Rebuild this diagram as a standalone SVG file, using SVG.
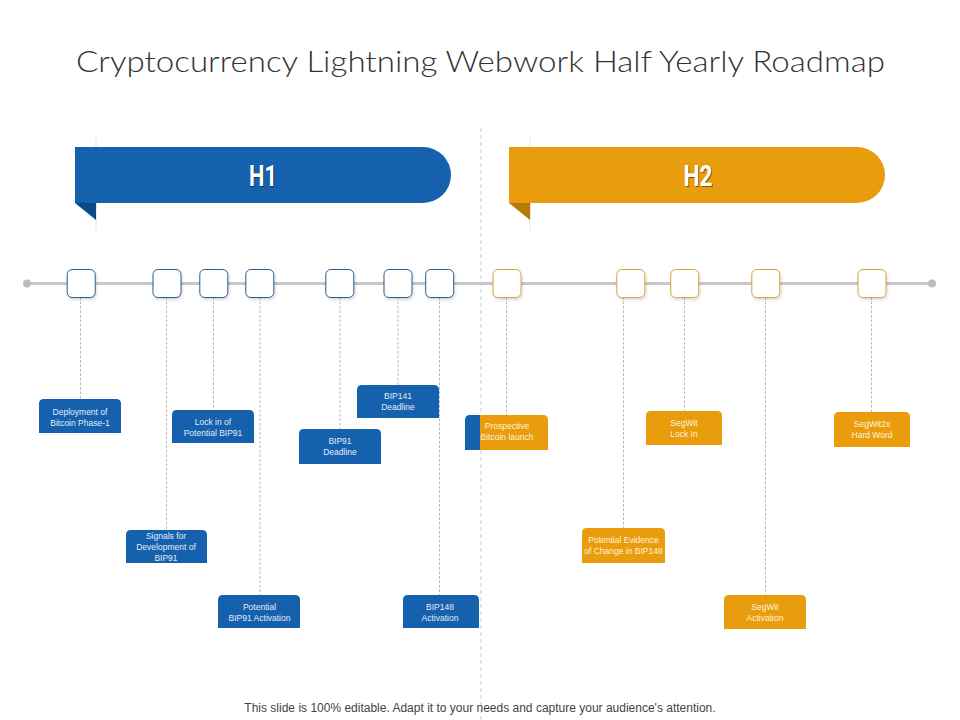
<svg xmlns="http://www.w3.org/2000/svg" width="960" height="720" viewBox="0 0 960 720">
<defs>
<style>
.title{font-family:Lato,"Liberation Sans",Arial,sans-serif;font-weight:300;font-size:30px;fill:#333333;}
.hd{font-family:Roboto,"Liberation Sans",sans-serif;font-weight:bold;font-size:29px;fill:#ffffff;text-anchor:middle;}
.hds{font-family:Roboto,"Liberation Sans",sans-serif;font-weight:bold;font-size:29px;fill:#000000;opacity:0.45;text-anchor:middle;}
.lb{font-family:"Liberation Sans",Arial,sans-serif;font-size:8.5px;text-anchor:middle;}
.lbb{fill:#e3ebf7;}
.lbo{fill:#fff4de;}
.blue{fill:#1561ad;}
.orange{fill:#e99c0c;}
.sqb{fill:#ffffff;stroke:#2a5a8e;stroke-width:1;}
.sqo{fill:#ffffff;stroke:#d6a43a;stroke-width:1;}
.con{stroke:#b5b5b5;stroke-width:1;stroke-dasharray:2.5,2;fill:none;}
.foot{font-family:"Liberation Sans",Arial,sans-serif;font-size:12px;fill:#444444;text-anchor:middle;}
</style>
<linearGradient id="sh" x1="0" y1="0" x2="0" y2="1">
<stop offset="0" stop-color="#cfcfcf" stop-opacity="0"/>
<stop offset="0.5" stop-color="#c8c8c8" stop-opacity="0.9"/>
<stop offset="1" stop-color="#cfcfcf" stop-opacity="0"/>
</linearGradient>
<filter id="ds" x="-30%" y="-30%" width="160%" height="170%">
<feDropShadow dx="1" dy="2" stdDeviation="1.5" flood-color="#000000" flood-opacity="0.15"/>
</filter>
</defs>
<rect width="960" height="720" fill="#ffffff"/>
<text class="title" x="76" y="71.5" textLength="809" lengthAdjust="spacingAndGlyphs">Cryptocurrency Lightning Webwork Half Yearly Roadmap</text>

<line x1="481" y1="128" x2="481" y2="720" stroke="#cccccc" stroke-width="1" stroke-dasharray="4,3"/>

<g id="banner-h1">
<rect x="95" y="128" width="2" height="112" fill="url(#sh)"/>
<path class="blue" d="M75,147 H423 A28,28 0 0 1 423,203 H75 Z"/>
<path d="M75,203 H96 V220 Z" fill="#0d4888"/>
<text class="hds" x="264" y="186.5" textLength="28" lengthAdjust="spacingAndGlyphs">H1</text>
<text class="hd" x="263" y="185.5" textLength="28" lengthAdjust="spacingAndGlyphs">H1</text>
</g>
<g id="banner-h2">
<rect x="529" y="128" width="2" height="112" fill="url(#sh)"/>
<path class="orange" d="M509,147 H857 A28,28 0 0 1 857,203 H509 Z"/>
<path d="M509,203 H530 V220 Z" fill="#b67a08"/>
<text class="hds" x="699" y="186.5" textLength="29" lengthAdjust="spacingAndGlyphs">H2</text>
<text class="hd" x="698" y="185.5" textLength="29" lengthAdjust="spacingAndGlyphs">H2</text>
</g>

<g id="timeline">
<line x1="27" y1="283.5" x2="932" y2="283.5" stroke="#c8c8c8" stroke-width="3"/>
<circle cx="27" cy="283.5" r="4" fill="#bdbdbd"/>
<circle cx="932" cy="283.5" r="4" fill="#bdbdbd"/>
</g>

<g id="connectors">
<line class="con" x1="80.5" y1="297" x2="80.5" y2="399"/>
<line class="con" x1="166.5" y1="297" x2="166.5" y2="530"/>
<line class="con" x1="213.5" y1="297" x2="213.5" y2="410"/>
<line class="con" x1="260" y1="297" x2="260" y2="595"/>
<line class="con" x1="340" y1="297" x2="340" y2="429"/>
<line class="con" x1="398" y1="297" x2="398" y2="385"/>
<line class="con" x1="439.5" y1="297" x2="439.5" y2="595"/>
<line class="con" x1="506.5" y1="297" x2="506.5" y2="415"/>
<line class="con" x1="623.5" y1="297" x2="623.5" y2="528"/>
<line class="con" x1="684.5" y1="297" x2="684.5" y2="411"/>
<line class="con" x1="765.5" y1="297" x2="765.5" y2="595"/>
<line class="con" x1="871.5" y1="297" x2="871.5" y2="412"/>
</g>

<g id="markers" filter="url(#ds)">
<rect class="sqb" x="67.2" y="269.5" width="28" height="28" rx="5"/>
<rect class="sqb" x="153" y="269.5" width="28" height="28" rx="5"/>
<rect class="sqb" x="199.8" y="269.5" width="28" height="28" rx="5"/>
<rect class="sqb" x="245.8" y="269.5" width="28" height="28" rx="5"/>
<rect class="sqb" x="325.8" y="269.5" width="28" height="28" rx="5"/>
<rect class="sqb" x="384" y="269.5" width="28" height="28" rx="5"/>
<rect class="sqb" x="425.7" y="269.5" width="28" height="28" rx="5"/>
<rect class="sqo" x="493" y="269.5" width="28" height="28" rx="5"/>
<rect class="sqo" x="616.8" y="269.5" width="28" height="28" rx="5"/>
<rect class="sqo" x="670.7" y="269.5" width="28" height="28" rx="5"/>
<rect class="sqo" x="751.8" y="269.5" width="28" height="28" rx="5"/>
<rect class="sqo" x="858" y="269.5" width="28" height="28" rx="5"/>
</g>

<g id="n-deployment">
<path class="blue" d="M39,433 V404 Q39,399 44,399 H116 Q121,399 121,404 V433 Z"/>
<text class="lb lbb" x="80" y="414.5">Deployment of</text>
<text class="lb lbb" x="80" y="425.5">Bitcoin Phase-1</text>
</g>
<g id="n-signals">
<path class="blue" d="M126,563 V535 Q126,530 131,530 H202 Q207,530 207,535 V563 Z"/>
<text class="lb lbb" x="166" y="538.5">Signals for</text>
<text class="lb lbb" x="166" y="549.5">Development of</text>
<text class="lb lbb" x="166" y="560.5">BIP91</text>
</g>
<g id="n-lockin">
<path class="blue" d="M172,443 V415 Q172,410 177,410 H249 Q254,410 254,415 V443 Z"/>
<text class="lb lbb" x="213" y="425">Lock in of</text>
<text class="lb lbb" x="213" y="436">Potential BIP91</text>
</g>
<g id="n-bip91act">
<path class="blue" d="M218,628 V600 Q218,595 223,595 H295 Q300,595 300,600 V628 Z"/>
<text class="lb lbb" x="259.5" y="609.5">Potential</text>
<text class="lb lbb" x="259.5" y="620.5">BIP91 Activation</text>
</g>
<g id="n-bip91dl">
<path class="blue" d="M299,464 V434 Q299,429 304,429 H376 Q381,429 381,434 V464 Z"/>
<text class="lb lbb" x="340" y="444">BIP91</text>
<text class="lb lbb" x="340" y="455">Deadline</text>
</g>
<g id="n-bip141">
<path class="blue" d="M357,418 V390 Q357,385 362,385 H434 Q439,385 439,390 V418 Z"/>
<text class="lb lbb" x="398" y="399">BIP141</text>
<text class="lb lbb" x="398" y="410">Deadline</text>
</g>
<g id="n-bip148">
<path class="blue" d="M403,628 V600 Q403,595 408,595 H474 Q479,595 479,600 V628 Z"/>
<text class="lb lbb" x="440" y="609.5">BIP148</text>
<text class="lb lbb" x="440" y="620.5">Activation</text>
</g>
<g id="n-prospective">
<path class="blue" d="M465,450 V420 Q465,415 470,415 H490 V450 Z"/>
<path class="orange" d="M480,450 V415 H543 Q548,415 548,420 V450 Z"/>
<text class="lb lbo" x="507" y="429">Prospective</text>
<text class="lb lbo" x="507" y="440">Bitcoin launch</text>
</g>
<g id="n-evidence">
<path class="orange" d="M582,563 V533 Q582,528 587,528 H660 Q665,528 665,533 V563 Z"/>
<text class="lb lbo" x="623.5" y="543">Potential Evidence</text>
<text class="lb lbo" x="623.5" y="554">of Change in BIP148</text>
</g>
<g id="n-segwit-lock">
<path class="orange" d="M646,445 V416 Q646,411 651,411 H717 Q722,411 722,416 V445 Z"/>
<text class="lb lbo" x="684" y="426">SegWit</text>
<text class="lb lbo" x="684" y="437">Lock In</text>
</g>
<g id="n-segwit-act">
<path class="orange" d="M724,629 V600 Q724,595 729,595 H801 Q806,595 806,600 V629 Z"/>
<text class="lb lbo" x="765" y="610">SegWit</text>
<text class="lb lbo" x="765" y="621">Activation</text>
</g>
<g id="n-segwit2x">
<path class="orange" d="M834,447 V417 Q834,412 839,412 H905 Q910,412 910,417 V447 Z"/>
<text class="lb lbo" x="872" y="427">SegWit2x</text>
<text class="lb lbo" x="872" y="438">Hard Word</text>
</g>

<text class="foot" x="480" y="712">This slide is 100% editable. Adapt it to your needs and capture your audience's attention.</text>
</svg>
